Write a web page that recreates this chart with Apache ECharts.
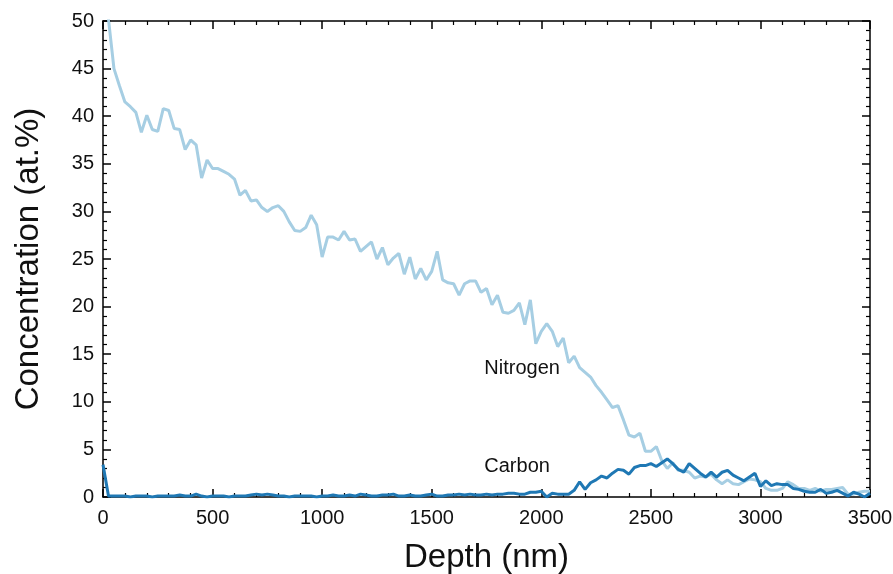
<!DOCTYPE html>
<html>
<head>
<meta charset="utf-8">
<script src="https://cdn.jsdelivr.net/npm/echarts@6/dist/echarts.min.js"></script>
<style>
  html, body { margin: 0; padding: 0; background: #fff; }
  #main { width: 893px; height: 574px; }
</style>
</head>
<body>
<div id="main"></div>
<script>
// depth grid (nm)
var depth = [0,25,50,75,100,125,150,175,200,225,250,275,300,325,350,375,400,425,450,475,
  500,525,550,575,600,625,650,675,700,725,750,775,800,825,850,875,900,925,950,975,
  1000,1025,1050,1075,1100,1125,1150,1175,1200,1225,1250,1275,1300,1325,1350,1375,1400,1425,1450,1475,
  1500,1525,1550,1575,1600,1625,1650,1675,1700,1725,1750,1775,1800,1825,1850,1875,1900,1925,1950,1975,
  2000,2025,2050,2075,2100,2125,2150,2175,2200,2225,2250,2275,2300,2325,2350,2375,2400,2425,2450,2475,
  2500,2525,2550,2575,2600,2625,2650,2675,2700,2725,2750,2775,2800,2825,2850,2875,2900,2925,2950,2975,
  3000,3025,3050,3075,3100,3125,3150,3175,3200,3225,3250,3275,3300,3325,3350,3375,3400,3425,3450,3475,3500];

// Nitrogen (at.%)
var nitrogen = [52,50.2,45.0,43.2,41.5,41.0,40.4,38.3,40.1,38.6,38.4,40.8,40.6,38.7,38.6,36.5,37.5,37.0,33.5,35.4,
  34.5,34.5,34.2,33.9,33.4,31.7,32.2,31.1,31.2,30.4,30.0,30.4,30.6,30.0,28.9,28.0,27.9,28.3,29.6,28.6,
  25.2,27.3,27.3,27.0,27.9,27.0,27.1,25.8,26.3,26.8,25.0,26.2,24.4,25.1,25.6,23.4,25.2,22.9,24.0,22.8,
  23.7,25.8,22.8,22.5,22.4,21.2,22.4,22.7,22.7,21.5,21.9,20.2,21.2,19.4,19.3,19.6,20.4,18.1,20.7,16.1,
  17.4,18.2,17.4,15.8,16.7,14.1,14.8,13.6,13.1,12.6,11.7,11.0,10.2,9.4,9.6,8.1,6.5,6.3,6.7,4.8,
  4.8,5.3,3.8,3.0,3.6,2.8,2.8,2.6,2.0,2.2,2.1,2.4,1.8,1.4,1.8,1.4,1.3,1.6,1.9,1.8,
  1.6,0.9,0.7,0.7,0.9,1.6,1.3,0.9,0.9,0.7,0.9,0.6,0.8,0.8,0.9,1.0,0.3,0.3,0.5,0.6,0.6];

// Carbon (at.%)
var carbon = [3.4,0.1,0.1,0.1,0.1,0.0,0.1,0.1,0.1,0.0,0.1,0.1,0.1,0.1,0.2,0.1,0.1,0.3,0.1,0.0,
  0.1,0.1,0.1,0.0,0.1,0.1,0.1,0.2,0.3,0.2,0.3,0.2,0.1,0.1,0.0,0.1,0.1,0.1,0.1,0.0,
  0.1,0.1,0.2,0.1,0.1,0.2,0.1,0.3,0.2,0.1,0.1,0.2,0.2,0.3,0.1,0.1,0.2,0.1,0.1,0.2,
  0.3,0.1,0.1,0.2,0.2,0.3,0.2,0.3,0.2,0.2,0.3,0.2,0.3,0.3,0.4,0.4,0.3,0.3,0.5,0.5,
  0.6,0.0,0.4,0.3,0.3,0.3,0.7,1.6,0.8,1.5,1.8,2.2,2.0,2.5,2.9,2.8,2.4,3.1,3.3,3.3,
  3.5,3.2,3.6,4.0,3.5,2.9,2.6,3.5,3.0,2.5,2.1,2.6,2.1,2.6,2.8,2.3,2.0,1.7,2.1,2.5,
  1.1,1.7,1.2,1.4,1.3,1.3,0.9,0.8,0.6,0.5,0.5,0.8,0.4,0.5,0.7,0.4,0.1,0.5,0.3,0.0,0.4];

var labels = [
  {text: 'Nitrogen', at: [1740, 13.5]},
  {text: 'Carbon', at: [1740, 3.2]}
];

function pairs(ys) {
  var out = [];
  for (var i = 0; i < ys.length; i++) out.push([depth[i], ys[i]]);
  return out;
}

var chart = echarts.init(document.getElementById('main'));
var font = 'Liberation Sans, Arial, sans-serif';

var frameLine = {show: true, onZero: false, lineStyle: {color: '#000', width: 1.5}};
var majorTick = {show: true, inside: true, length: 8, lineStyle: {color: '#000', width: 1.5}};
var minorTick = {show: true, splitNumber: 5, length: 4, lineStyle: {color: '#000', width: 1.2}};
var plain = function (v) { return String(v); };

var option = {
  backgroundColor: '#fff',
  animation: false,
  grid: {left: 103, right: 23, top: 21, bottom: 77, outerBoundsMode: 'none', containLabel: false},
  xAxis: [{
    type: 'value', position: 'bottom', min: 0, max: 3500, interval: 500,
    axisLine: frameLine, axisTick: majorTick, minorTick: minorTick,
    splitLine: {show: false},
    axisLabel: {color: '#111', fontSize: 20, fontFamily: font, margin: 11, formatter: plain},
    name: 'Depth (nm)', nameLocation: 'middle', nameGap: 44,
    nameTextStyle: {color: '#111', fontSize: 33, fontFamily: font}
  }, {
    type: 'value', position: 'top', min: 0, max: 3500, interval: 500,
    axisLine: frameLine, axisTick: majorTick, minorTick: minorTick,
    splitLine: {show: false}, axisLabel: {show: false}
  }],
  yAxis: [{
    type: 'value', position: 'left', min: 0, max: 50, interval: 5,
    axisLine: frameLine, axisTick: majorTick, minorTick: minorTick,
    splitLine: {show: false},
    axisLabel: {color: '#111', fontSize: 20, fontFamily: font, margin: 9, formatter: plain},
    name: 'Concentration (at.%)', nameLocation: 'middle', nameGap: 58,
    nameTextStyle: {color: '#111', fontSize: 33, fontFamily: font}
  }, {
    type: 'value', position: 'right', min: 0, max: 50, interval: 5,
    axisLine: frameLine, axisTick: majorTick, minorTick: minorTick,
    splitLine: {show: false}, axisLabel: {show: false}
  }],
  series: [{
    name: 'Nitrogen', type: 'line', data: pairs(nitrogen),
    showSymbol: false, clip: true,
    lineStyle: {color: '#a6cee3', width: 3},
    itemStyle: {color: '#a6cee3'}
  }, {
    name: 'Carbon', type: 'line', data: pairs(carbon),
    showSymbol: false, clip: true,
    lineStyle: {color: '#1f78b4', width: 3},
    itemStyle: {color: '#1f78b4'}
  }]
};
chart.setOption(option);

// text annotations placed at data coordinates
var texts = labels.map(function (l) {
  var p = chart.convertToPixel({xAxisIndex: 0, yAxisIndex: 0}, l.at);
  return {
    type: 'text', x: p[0], y: p[1],
    style: {text: l.text, fill: '#111', fontSize: 20, fontFamily: font, verticalAlign: 'middle', align: 'left'}
  };
});
chart.setOption({graphic: texts});
</script>
</body>
</html>
